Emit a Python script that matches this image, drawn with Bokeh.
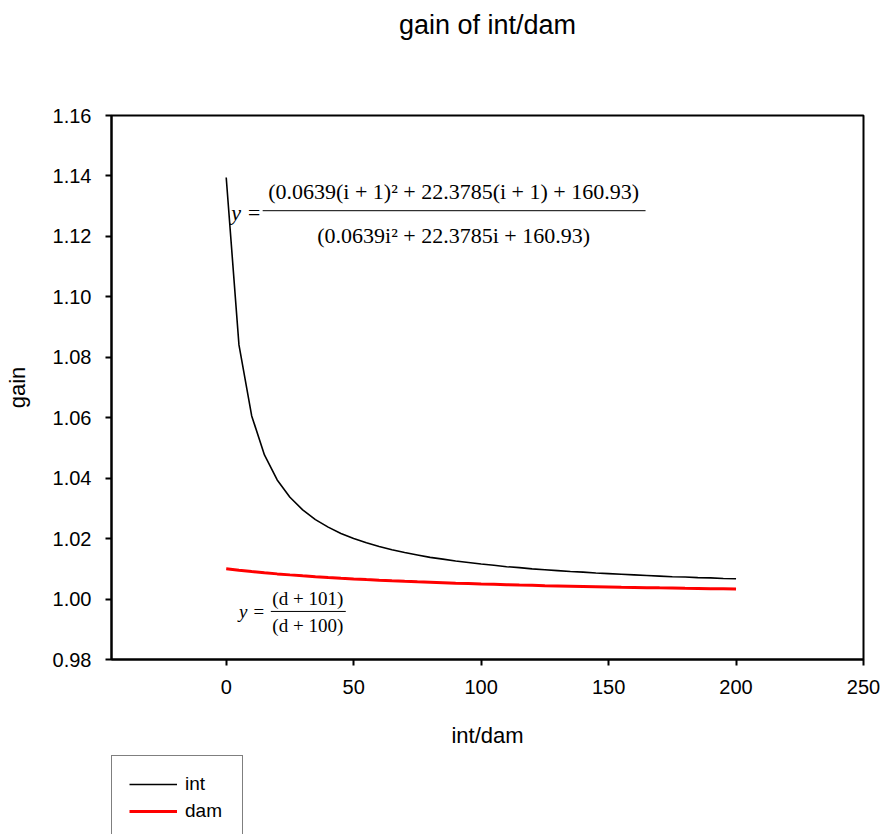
from bokeh.plotting import figure
from bokeh.layouts import column
from bokeh.models import (Range1d, FixedTicker, PrintfTickFormatter, Legend,
                          LegendItem, Label, Title)
from bokeh.embed import file_html
from bokeh.resources import INLINE

# int/dam values sampled every 5 units
steps = [0, 5, 10, 15, 20, 25, 30, 35, 40, 45, 50, 55, 60, 65, 70, 75, 80, 85,
         90, 95, 100, 105, 110, 115, 120, 125, 130, 135, 140, 145, 150, 155,
         160, 165, 170, 175, 180, 185, 190, 195, 200]

int_gain = [1.1395, 1.0841, 1.0606, 1.0477, 1.0394, 1.0337, 1.0295, 1.0263,
            1.0238, 1.0217, 1.0200, 1.0186, 1.0174, 1.0163, 1.0154, 1.0146,
            1.0138, 1.0132, 1.0126, 1.0121, 1.0116, 1.0112, 1.0107, 1.0104,
            1.0100, 1.0097, 1.0094, 1.0091, 1.0089, 1.0086, 1.0084, 1.0082,
            1.0080, 1.0078, 1.0076, 1.0074, 1.0073, 1.0071, 1.0070, 1.0068,
            1.0067]

dam_gain = [1.01000, 1.00952, 1.00909, 1.00870, 1.00833, 1.00800, 1.00769,
            1.00741, 1.00714, 1.00690, 1.00667, 1.00645, 1.00625, 1.00606,
            1.00588, 1.00571, 1.00556, 1.00541, 1.00526, 1.00513, 1.00500,
            1.00488, 1.00476, 1.00465, 1.00455, 1.00444, 1.00435, 1.00426,
            1.00417, 1.00408, 1.00400, 1.00392, 1.00385, 1.00377, 1.00370,
            1.00364, 1.00357, 1.00351, 1.00345, 1.00339, 1.00333]

series_names = ["int", "dam"]
x_ticks = [0, 50, 100, 150, 200, 250]
y_ticks = [0.98, 1.00, 1.02, 1.04, 1.06, 1.08, 1.10, 1.12, 1.14, 1.16]

SANS = "Liberation Sans"
SERIF = "Liberation Serif"
INT_STYLE = dict(line_color="black", line_width=1.6)
DAM_STYLE = dict(line_color="red", line_width=3)

# ---- main chart -----------------------------------------------------------
p = figure(width=884, height=755, output_backend="svg", toolbar_location=None,
           x_range=Range1d(-45, 250), y_range=Range1d(0.98, 1.16),
           title="gain of int/dam",
           min_border_left=111, min_border_right=21, min_border_top=10,
           min_border_bottom=96)

p.title.align = "center"
p.title.vertical_align = "top"
p.title.text_font = SANS
p.title.text_font_size = "27px"
p.title.text_font_style = "normal"
p.title.text_color = "black"
p.title.standoff = 18
# empty spacer between the title and the plot frame
p.add_layout(Title(text=" ", text_font_size="2px", standoff=61), "above")

p.grid.visible = False
p.background_fill_color = "white"
p.border_fill_color = "white"
p.outline_line_color = "black"
p.outline_line_width = 2

for ax in (p.xaxis[0], p.yaxis[0]):
    ax.axis_line_width = 2
    ax.axis_line_color = "black"
    ax.major_tick_line_width = 2
    ax.major_tick_line_color = "black"
    ax.major_tick_in = 0
    ax.major_tick_out = 6
    ax.minor_tick_line_color = None
    ax.major_label_text_font = SANS
    ax.major_label_text_font_size = "20px"
    ax.major_label_text_color = "black"
    ax.axis_label_text_font = SANS
    ax.axis_label_text_font_size = "22px"
    ax.axis_label_text_font_style = "normal"
    ax.axis_label_text_color = "black"

p.xaxis.ticker = FixedTicker(ticks=x_ticks)
p.yaxis.ticker = FixedTicker(ticks=y_ticks)
p.yaxis.formatter = PrintfTickFormatter(format="%.2f")
p.xaxis.axis_label = "int/dam"
p.yaxis.axis_label = "gain"
p.xaxis.major_label_standoff = 14
p.yaxis.major_label_standoff = 14
p.xaxis.axis_label_standoff = 26
p.yaxis.axis_label_standoff = 20

p.line(steps, int_gain, **INT_STYLE)
p.line(steps, dam_gain, **DAM_STYLE)

# formula annotations
def eq_label(x, y, text, size, style="normal", align="center"):
    p.add_layout(Label(x=x, y=y, text=text, text_font=SERIF,
                       text_font_size=size, text_font_style=style,
                       text_align=align, text_baseline="middle",
                       text_color="black"))

eq_label(89.2, 1.1350, "(0.0639(i + 1)² + 22.3785(i + 1) + 160.93)", "22px")
eq_label(89.2, 1.1202, "(0.0639i² + 22.3785i + 160.93)", "22px")
eq_label(13.8, 1.1280, "y =", "22px", style="italic", align="right")
p.segment(x0=[14.3], y0=[1.1285], x1=[164.5], y1=[1.1285],
          line_color="black", line_width=1)

eq_label(32.0, 1.0002, "(d + 101)", "19px")
eq_label(32.0, 0.9913, "(d + 100)", "19px")
eq_label(15.2, 0.9958, "y =", "19px", style="italic", align="right")
p.segment(x0=[17.5], y0=[0.9959], x1=[46.9], y1=[0.9959],
          line_color="black", line_width=1)

# ---- legend strip below the chart ----------------------------------------
# the series are drawn again here only to carry the legend swatches; the
# ranges keep them out of view
lg = figure(width=884, height=79, output_backend="svg", toolbar_location=None,
            x_range=Range1d(1000, 1001), y_range=Range1d(1000, 1001),
            min_border_left=0, min_border_right=0, min_border_top=0,
            min_border_bottom=0)
lg.axis.visible = False
lg.grid.visible = False
lg.outline_line_color = None
lg.background_fill_color = "white"
lg.border_fill_color = "white"

r_int = lg.line(steps, int_gain, **INT_STYLE)
r_dam = lg.line(steps, dam_gain, **DAM_STYLE)

legend = Legend(items=[LegendItem(label=series_names[0], renderers=[r_int]),
                       LegendItem(label=series_names[1], renderers=[r_dam])],
                location="top_left", orientation="vertical",
                border_line_color="black", border_line_width=1,
                background_fill_color="white", background_fill_alpha=1,
                padding=17, spacing=5, margin=0,
                glyph_width=48, glyph_height=20, label_height=20,
                label_width=40, label_standoff=8,
                label_text_font=SANS, label_text_font_size="19px",
                label_text_color="black")
lg.add_layout(legend, "center")

layout = column(p, lg, spacing=0)
open("out.html", "w").write(file_html(layout, INLINE))
